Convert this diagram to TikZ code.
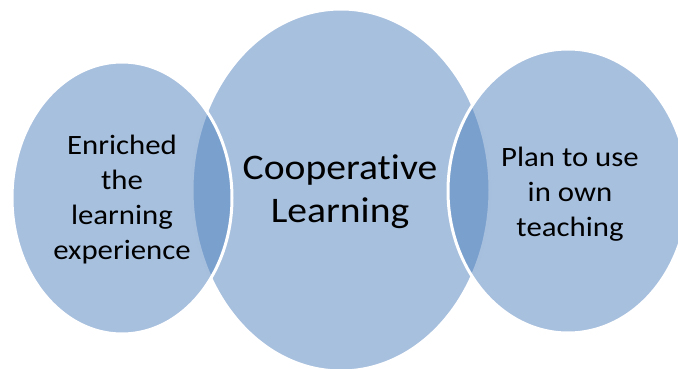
\documentclass[tikz,border=0pt]{standalone}
\usepackage{fontspec}
\setmainfont{Carlito}[FakeStretch=1.1, Ligatures=CommonOff]
\usetikzlibrary{shapes.geometric}
\definecolor{vennblue}{HTML}{4F81BD}
\tikzset{
	venn/.style={ellipse, fill=vennblue, fill opacity=0.5, draw=white, draw opacity=1, line width=3pt, inner sep=0pt},
	smalltext/.style={align=center, inner sep=0pt, font=\fontsize{28}{35}\selectfont},
	bigtext/.style={align=center, inner sep=0pt, font=\fontsize{36}{43}\selectfont}
}
\begin{document}
\begin{tikzpicture}[x=1pt, y=-1pt]
			\useasboundingbox (0,0) rectangle (678,369);
			\clip (0,0) rectangle (678,369);
			
			% DRAW CIRCLES
			\node[venn, minimum width=298pt, minimum height=362pt] (cen) at (341,190) {}; % middle
			\node[venn, minimum width=220pt, minimum height=272pt] (lft) at (122,198) {}; % left
			\node[venn, minimum width=240pt, minimum height=284pt] (rgt) at (568,191) {}; % right
			
			% DRAW TEXT
			\node[smalltext] (lfttext) at (122,200) {Enriched\\the\\learning\\experience};
			\node[bigtext] (centext) at (340,192) {Cooperative\\Learning};
			\node[smalltext] (rgttext) at (570,194) {Plan to use\\in own\\teaching};
		\end{tikzpicture}
\end{document}
